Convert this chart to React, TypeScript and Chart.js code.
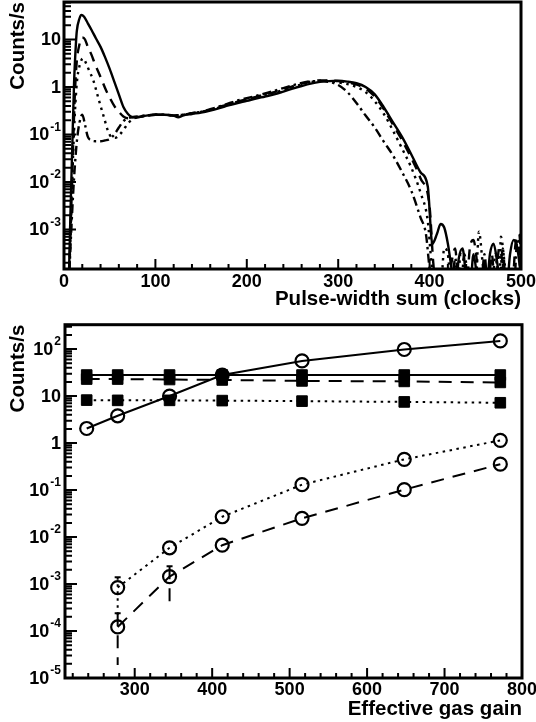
import React, { useEffect, useRef } from 'react';
import { Chart, registerables } from 'chart.js';

Chart.register(...registerables);

const FONT = '"Liberation Sans", Arial, Helvetica, sans-serif';

// ---------- Top panel: pulse-width sum spectra ----------
const solidSpecX = [5, 7, 9, 11, 13, 14, 17, 19, 22, 26, 30, 35, 40, 45, 50, 55, 60, 65, 70, 75, 80, 90, 100, 110, 120, 125, 130, 140, 150, 160, 170, 180, 190, 200, 210, 220, 230, 240, 250, 260, 270, 280, 290, 300, 310, 320, 330, 340, 350, 360, 370, 380, 390, 398, 403, 408, 412, 416, 420, 424, 428, 432, 436, 440, 444, 448, 452, 456, 462, 466, 470, 474, 478, 484, 488, 492, 496, 500];
const solidSpecY = [5e-5, 2e-3, 0.05, 1.2, 8, 15, 28, 33, 30, 22, 16, 10.5, 7, 4.2, 2.4, 1.3, 0.7, 0.38, 0.27, 0.23, 0.23, 0.25, 0.26, 0.26, 0.25, 0.23, 0.25, 0.27, 0.29, 0.32, 0.36, 0.41, 0.46, 0.51, 0.57, 0.63, 0.7, 0.8, 0.92, 1.05, 1.18, 1.28, 1.33, 1.35, 1.3, 1.2, 1.0, 0.7, 0.37, 0.18, 0.088, 0.038, 0.016, 0.008, 5e-4, 8e-4, 1.3e-3, 1.1e-3, 5e-4, 1.5e-4, 5e-5, 2.5e-4, 4e-4, 1e-4, 5e-5, 3e-4, 1e-4, 5e-5, 5e-5, 3e-4, 5e-4, 2e-4, 5e-5, 5e-5, 3e-4, 6e-4, 4e-4, 1e-4];

const dashedSpecX = [5, 8, 10, 12, 14, 17, 20, 23, 26, 30, 34, 38, 42, 46, 50, 55, 60, 65, 70, 75, 80, 90, 100, 110, 120, 130, 140, 150, 160, 170, 180, 190, 200, 210, 220, 230, 240, 250, 260, 270, 280, 290, 300, 310, 320, 330, 340, 350, 360, 370, 380, 390, 400, 404, 408, 420, 424, 428, 432, 440, 444, 448, 452, 456, 464, 468, 472, 476, 480, 484, 490, 494, 498, 500];
const dashedSpecY = [5e-5, 3e-3, 0.06, 0.8, 3.5, 8, 11, 10, 7, 4.8, 3, 2, 1.3, 0.85, 0.6, 0.4, 0.3, 0.24, 0.22, 0.22, 0.23, 0.25, 0.26, 0.26, 0.25, 0.26, 0.28, 0.3, 0.33, 0.38, 0.43, 0.49, 0.55, 0.62, 0.69, 0.78, 0.9, 1.03, 1.17, 1.3, 1.38, 1.38, 1.33, 1.25, 1.12, 0.92, 0.63, 0.34, 0.16, 0.075, 0.032, 0.012, 3e-3, 2e-4, 5e-5, 5e-5, 2e-4, 4e-4, 5e-5, 5e-5, 4e-4, 6e-4, 2e-4, 5e-5, 5e-5, 3e-4, 5e-5, 4e-4, 2e-4, 5e-5, 5e-5, 5e-4, 8e-4, 3e-4];

const dottedSpecX = [5, 8, 10, 12, 14, 17, 21, 24, 28, 32, 36, 40, 44, 48, 52, 56, 61, 65, 70, 75, 80, 90, 100, 110, 120, 130, 140, 150, 160, 170, 180, 190, 200, 210, 220, 230, 240, 250, 260, 270, 280, 290, 300, 310, 320, 330, 340, 350, 360, 370, 380, 390, 398, 402, 406, 412, 416, 420, 424, 430, 434, 438, 442, 450, 454, 458, 462, 468, 472, 476, 478, 482, 486, 496, 500];
const dottedSpecY = [5e-5, 2e-3, 0.04, 0.3, 1.2, 2.8, 4, 3.2, 2.1, 1.4, 0.75, 0.4, 0.22, 0.12, 0.088, 0.085, 0.1, 0.125, 0.17, 0.21, 0.23, 0.25, 0.26, 0.26, 0.25, 0.26, 0.28, 0.3, 0.33, 0.37, 0.42, 0.48, 0.54, 0.6, 0.67, 0.76, 0.87, 1.0, 1.13, 1.26, 1.35, 1.33, 1.25, 1.15, 1.0, 0.78, 0.5, 0.27, 0.12, 0.05, 0.02, 6e-3, 1.5e-3, 2e-4, 5e-5, 5e-5, 4e-4, 3e-4, 5e-5, 5e-5, 3e-4, 2e-4, 5e-5, 5e-5, 9e-4, 2e-4, 5e-5, 5e-5, 3e-4, 5e-5, 7e-4, 2e-4, 5e-5, 5e-5, 4e-4];

const dashDotSpecX = [5, 8, 11, 14, 17, 20, 23, 26, 30, 35, 40, 45, 50, 55, 60, 65, 70, 80, 90, 100, 110, 120, 130, 140, 150, 160, 170, 180, 190, 200, 210, 220, 230, 240, 250, 260, 270, 280, 290, 300, 310, 320, 330, 340, 350, 360, 370, 380, 390, 396, 400, 404, 424, 428, 432, 434, 438, 444, 456, 460, 464, 476, 480, 484, 492, 496, 500];
const dashDotSpecY = [5e-5, 1e-3, 0.012, 0.07, 0.18, 0.26, 0.16, 0.09, 0.075, 0.072, 0.072, 0.075, 0.08, 0.1, 0.14, 0.19, 0.22, 0.24, 0.25, 0.26, 0.26, 0.25, 0.26, 0.28, 0.3, 0.34, 0.39, 0.45, 0.52, 0.58, 0.65, 0.73, 0.83, 0.95, 1.08, 1.22, 1.32, 1.33, 1.28, 1.1, 0.78, 0.46, 0.25, 0.14, 0.07, 0.036, 0.016, 6.5e-3, 1.8e-3, 8e-4, 1.5e-4, 5e-5, 5e-5, 2.5e-4, 5e-5, 5e-5, 3e-4, 5e-5, 5e-5, 3e-4, 5e-5, 5e-5, 4e-4, 5e-5, 5e-5, 6e-4, 2e-4];

const topXMajor = [0, 100, 200, 300, 400, 500];
const topXMinor = [20, 40, 60, 80, 120, 140, 160, 180, 220, 240, 260, 280, 320, 340, 360, 380, 420, 440, 460, 480];
const topYDecades = [-3, -2, -1, 0, 1];

// ---------- Bottom panel: rates vs effective gas gain ----------
const gainValues = [238, 278, 345, 413, 516, 648, 772];
const solidCircleRates = [2.04, 3.8, 10, 28, 56, 98, 149];
const dottedCircleRates = [null, 8.4e-4, 5.9e-3, 2.7e-2, 0.13, 0.45, 1.14];
const dashedCircleRates = [null, 1.22e-4, 1.44e-3, 6.7e-3, 0.025, 0.102, 0.355];
const solidSquareRates = [28, 28, 28, 28, 28, 28, 28];
const dashedSquareRates = [23, 23, 22.5, 22, 21, 20.5, 19.5];
const dottedSquareRates = [8.2, 8.1, 8.1, 8.0, 7.8, 7.5, 7.2];
const dottedCircleErrLow = [null, 1.7e-4, null, null, null, null, null];
const dottedCircleErrHigh = [null, 1.4e-3, null, null, null, null, null];
const dashedCircleErrLow = [null, 1.9e-5, 3.5e-4, null, null, null, null];
const dashedCircleErrHigh = [null, 2.4e-4, 2.4e-3, null, null, null, null];

const botXMajor = [300, 400, 500, 600, 700, 800];
const botXMinor = [220, 240, 260, 280, 320, 340, 360, 380, 420, 440, 460, 480, 520, 540, 560, 580, 620, 640, 660, 680, 720, 740, 760, 780];
const botYDecades = [-5, -4, -3, -2, -1, 0, 1, 2];

const DASHED = [13, 9];
const DOTTED = [2.5, 4.5];
const DASHDOT = [9, 4, 2.5, 4];

function xy(xs: number[], ys: (number | null)[]) {
  const out: { x: number; y: number }[] = [];
  xs.forEach((x, i) => {
    const y = ys[i];
    if (y !== null && y !== undefined) out.push({ x, y });
  });
  return out;
}

function drawLogLabel(ctx: CanvasRenderingContext2D, e: number, xRight: number, y: number) {
  const base = e === 0 ? '1' : '10';
  const sup = e === 0 || e === 1 ? '' : String(e);
  ctx.textBaseline = 'middle';
  ctx.textAlign = 'left';
  ctx.font = `bold 12px ${FONT}`;
  const sw = sup ? ctx.measureText(sup).width + 1 : 0;
  ctx.font = `bold 18px ${FONT}`;
  const bw = ctx.measureText(base).width;
  const x0 = xRight - sw - bw;
  ctx.fillText(base, x0, y + 1);
  if (sup) {
    ctx.font = `bold 12px ${FONT}`;
    ctx.fillText(sup, x0 + bw + 1, y - 7);
  }
}

function frameAxes(cfg: {
  xMajor: number[];
  xMinor: number[];
  yDecades: number[];
  xTitle: string;
  yTitle: string;
  labelDy: number;
  titleDy: number;
}) {
  return {
    id: 'frameAxes',
    afterDatasetsDraw(chart: any) {
      const { ctx, chartArea: a, scales } = chart;
      const xs = scales.x;
      const ys = scales.y;
      ctx.save();
      ctx.setLineDash([]);
      ctx.strokeStyle = '#000';
      ctx.fillStyle = '#000';
      ctx.lineWidth = 2;
      ctx.beginPath();
      cfg.xMinor.forEach((v) => {
        const px = xs.getPixelForValue(v);
        ctx.moveTo(px, a.bottom);
        ctx.lineTo(px, a.bottom - 5);
      });
      cfg.xMajor.forEach((v) => {
        const px = xs.getPixelForValue(v);
        ctx.moveTo(px, a.bottom);
        ctx.lineTo(px, a.bottom - 10);
      });
      const lo = ys.min;
      const hi = ys.max;
      for (let d = Math.floor(Math.log10(lo)); d <= Math.ceil(Math.log10(hi)); d++) {
        for (let m = 1; m <= 9; m++) {
          const v = m * Math.pow(10, d);
          if (v < lo || v > hi) continue;
          const py = ys.getPixelForValue(v);
          ctx.moveTo(a.left, py);
          ctx.lineTo(a.left + (m === 1 ? 12 : 7), py);
        }
      }
      ctx.stroke();
      ctx.lineWidth = 3;
      ctx.strokeRect(a.left, a.top, a.right - a.left, a.bottom - a.top);

      ctx.font = `bold 18px ${FONT}`;
      ctx.textAlign = 'center';
      ctx.textBaseline = 'middle';
      cfg.xMajor.forEach((v) => {
        ctx.fillText(String(v), xs.getPixelForValue(v), a.bottom + cfg.labelDy);
      });
      cfg.yDecades.forEach((e) => {
        drawLogLabel(ctx, e, 61, ys.getPixelForValue(Math.pow(10, e)));
      });

      ctx.font = `bold 20.5px ${FONT}`;
      ctx.textAlign = 'right';
      ctx.textBaseline = 'middle';
      ctx.fillText(cfg.xTitle, a.right, a.bottom + cfg.titleDy);

      ctx.save();
      ctx.translate(18, a.top);
      ctx.rotate(-Math.PI / 2);
      ctx.textAlign = 'right';
      ctx.textBaseline = 'middle';
      ctx.fillText(cfg.yTitle, 0, 0);
      ctx.restore();
      ctx.restore();
    },
  };
}

const errorBars = {
  id: 'errorBars',
  afterDatasetsDraw(chart: any) {
    const { ctx, chartArea: a, scales } = chart;
    const xs = scales.x;
    const ys = scales.y;
    const sets = [
      { lows: dottedCircleErrLow, highs: dottedCircleErrHigh, dash: DOTTED },
      { lows: dashedCircleErrLow, highs: dashedCircleErrHigh, dash: DASHED },
    ];
    ctx.save();
    ctx.beginPath();
    ctx.rect(a.left, a.top, a.right - a.left, a.bottom - a.top);
    ctx.clip();
    ctx.strokeStyle = '#000';
    ctx.lineWidth = 2;
    sets.forEach((s) => {
      gainValues.forEach((g, i) => {
        const l = s.lows[i];
        const h = s.highs[i];
        if (l == null || h == null) return;
        const px = xs.getPixelForValue(g);
        const y1 = ys.getPixelForValue(h);
        const y2 = ys.getPixelForValue(l);
        ctx.setLineDash(s.dash);
        ctx.beginPath();
        ctx.moveTo(px, y1);
        ctx.lineTo(px, y2);
        ctx.stroke();
        ctx.setLineDash([]);
        ctx.beginPath();
        ctx.moveTo(px - 3, y1);
        ctx.lineTo(px + 3, y1);
        ctx.stroke();
      });
    });
    ctx.restore();
  },
};

function specDataset(xs: number[], ys: number[], dash: number[]) {
  return {
    data: xy(xs, ys),
    borderColor: '#000',
    borderWidth: 2.4,
    borderDash: dash,
    pointRadius: 0,
    fill: false,
    cubicInterpolationMode: 'monotone' as const,
  };
}

function rateDataset(ys: (number | null)[], dash: number[], square: boolean) {
  return {
    data: xy(gainValues, ys),
    borderColor: '#000',
    borderWidth: 2,
    borderDash: dash,
    pointStyle: square ? 'rect' : 'circle',
    pointRadius: square ? 7.5 : 6.5,
    pointBorderWidth: square ? 1 : 2.2,
    pointBackgroundColor: square ? '#000' : 'rgba(0,0,0,0)',
    pointBorderColor: '#000',
    fill: false,
  };
}

export default function App() {
  const topRef = useRef<HTMLCanvasElement>(null);
  const botRef = useRef<HTMLCanvasElement>(null);

  useEffect(() => {
    const top = new Chart(topRef.current as HTMLCanvasElement, {
      type: 'line',
      data: {
        datasets: [
          specDataset(dashDotSpecX, dashDotSpecY, DASHDOT),
          specDataset(dottedSpecX, dottedSpecY, DOTTED),
          specDataset(dashedSpecX, dashedSpecY, [10, 7]),
          specDataset(solidSpecX, solidSpecY, []),
        ] as any,
      },
      options: {
        animation: false,
        responsive: false,
        maintainAspectRatio: false,
        events: [],
        layout: { padding: { left: 64, top: 2, right: 15, bottom: 47 } },
        plugins: { legend: { display: false }, tooltip: { enabled: false } },
        scales: {
          x: { type: 'linear', min: 0, max: 500, display: false },
          y: { type: 'logarithmic', min: 1.47e-4, max: 61.6, display: false },
        },
      },
      plugins: [
        frameAxes({
          xMajor: topXMajor,
          xMinor: topXMinor,
          yDecades: topYDecades,
          xTitle: 'Pulse-width sum (clocks)',
          yTitle: 'Counts/s',
          labelDy: 13,
          titleDy: 30,
        }),
      ],
    });

    const bot = new Chart(botRef.current as HTMLCanvasElement, {
      type: 'line',
      data: {
        datasets: [
          rateDataset(solidSquareRates, [], true),
          rateDataset(dashedSquareRates, DASHED, true),
          rateDataset(dottedSquareRates, DOTTED, true),
          rateDataset(solidCircleRates, [], false),
          rateDataset(dottedCircleRates, DOTTED, false),
          rateDataset(dashedCircleRates, DASHED, false),
        ] as any,
      },
      options: {
        animation: false,
        responsive: false,
        maintainAspectRatio: false,
        events: [],
        layout: { padding: { left: 65, top: 4, right: 14, bottom: 44 } },
        plugins: { legend: { display: false }, tooltip: { enabled: false } },
        scales: {
          x: { type: 'linear', min: 210, max: 800, display: false },
          y: { type: 'logarithmic', min: 1e-5, max: 330, display: false },
        },
      },
      plugins: [
        errorBars,
        frameAxes({
          xMajor: botXMajor,
          xMinor: botXMinor,
          yDecades: botYDecades,
          xTitle: 'Effective gas gain',
          yTitle: 'Counts/s',
          labelDy: 12,
          titleDy: 31,
        }),
      ],
    });

    return () => {
      top.destroy();
      bot.destroy();
    };
  }, []);

  return (
    <div style={{ position: 'absolute', left: 0, top: 0, width: 536, height: 722, background: '#fff' }}>
      <canvas ref={topRef} width={536} height={316} style={{ position: 'absolute', left: 0, top: 0, display: 'block' }} />
      <canvas ref={botRef} width={536} height={406} style={{ position: 'absolute', left: 0, top: 316, display: 'block' }} />
    </div>
  );
}
